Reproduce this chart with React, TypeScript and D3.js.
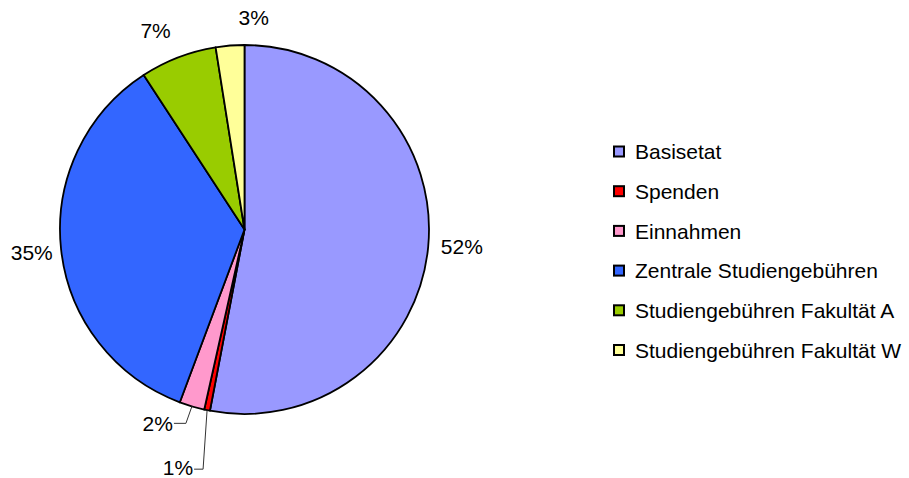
import React from "react";
import * as d3 from "d3";

const categories = [
  "Basisetat",
  "Spenden",
  "Einnahmen",
  "Zentrale Studiengebühren",
  "Studiengebühren Fakultät A",
  "Studiengebühren Fakultät W",
];
const values = [53.0, 0.5, 2.2, 35.1, 6.7, 2.5];
const percentLabels = ["52%", "1%", "2%", "35%", "7%", "3%"];
const colors = ["#9999FF", "#FF0000", "#FF99CC", "#3366FF", "#99CC00", "#FFFF99"];

const W = 909;
const H = 478;
const cx = 244.5;
const cy = 229.5;
const R = 184.5;

export default function App() {
  const pie = d3.pie<number>().sort(null).value((d) => d)(values);
  const arc = d3.arc<d3.PieArcDatum<number>>().innerRadius(0).outerRadius(R);
  const font = "'Liberation Sans', Arial, sans-serif";

  const polar = (a: number, r: number): [number, number] => [
    cx + Math.sin(a) * r,
    cy - Math.cos(a) * r,
  ];

  const labelNudge = [-1, 0, 0, 0, -3, 7];
  const labelR = [218, 0, 0, 214, 218, 212];

  return (
    <svg
      width={W}
      height={H}
      style={{ position: "absolute", left: 0, top: 0, background: "#fff" }}
    >
      <g>
        {pie.map((p, i) => (
          <path
            key={i}
            d={arc(p) as string}
            transform={`translate(${cx},${cy})`}
            fill={colors[i]}
            stroke="#000"
            strokeWidth={1.8}
            strokeLinejoin="round"
          />
        ))}
      </g>
      <g fontFamily={font} fontSize={21} fill="#000">
        {pie.map((p, i) => {
          const mid = (p.startAngle + p.endAngle) / 2;
          if (i === 1 || i === 2) {
            const [ex, ey] = polar(mid, R);
            if (i === 2) {
              const kx = ex - 6;
              const ky = ey + 17;
              const tx = kx - 12;
              return (
                <g key={i}>
                  <polyline
                    points={`${ex},${ey} ${kx},${ky} ${tx},${ky}`}
                    fill="none"
                    stroke="#333"
                    strokeWidth={1}
                  />
                  <text x={tx - 1} y={ky} dy="0.35em" textAnchor="end">
                    {percentLabels[i]}
                  </text>
                </g>
              );
            } else {
              const kx = ex;
              const ky = ey + 59;
              const tx = kx - 13;
              return (
                <g key={i}>
                  <polyline
                    points={`${ex},${ey} ${kx - 4},${ky} ${tx},${ky}`}
                    fill="none"
                    stroke="#333"
                    strokeWidth={1}
                  />
                  <text x={tx - 1} y={ky - 2} dy="0.35em" textAnchor="end">
                    {percentLabels[i]}
                  </text>
                </g>
              );
            }
          }
          const a = mid + (labelNudge[i] * Math.PI) / 180;
          const [x, y] = polar(a, labelR[i]);
          return (
            <text key={i} x={x} y={y} dy="0.35em" textAnchor="middle">
              {percentLabels[i]}
            </text>
          );
        })}
      </g>
      <g fontFamily={font} fontSize={21} fill="#000">
        {categories.map((c, i) => {
          const y = 152 + i * 39.7;
          return (
            <g key={c}>
              <rect
                x={614}
                y={y - 5.5}
                width={10}
                height={10}
                fill={colors[i]}
                stroke="#000"
                strokeWidth={2}
              />
              <text x={635} y={y} dy="0.35em">
                {c}
              </text>
            </g>
          );
        })}
      </g>
    </svg>
  );
}
